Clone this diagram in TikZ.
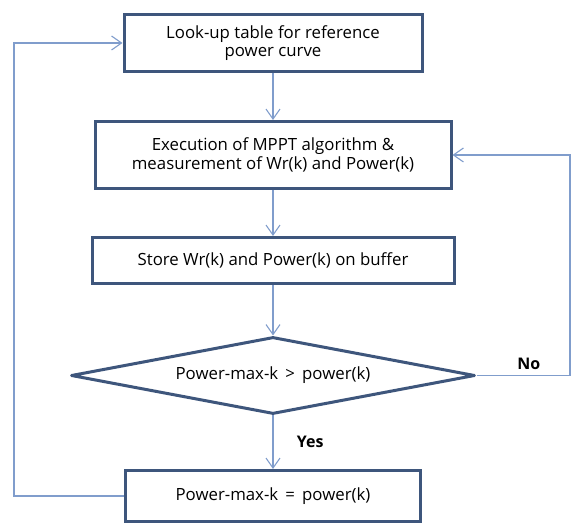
\documentclass[tikz,border=0pt]{standalone}
\usepackage{fontspec}
\setmainfont{Open Sans}
\usetikzlibrary{arrows.meta,positioning}
\usetikzlibrary{shapes.geometric}

\definecolor{boxblue}{RGB}{62,86,124}
\definecolor{lineblue}{RGB}{128,157,204}

\begin{document}
\begin{tikzpicture}
		[x=1pt,y=-1pt,
		proc/.style={draw=boxblue,line width=3pt,fill=white,align=center,inner sep=0pt,font=\fontsize{16.8}{18.5}\selectfont},
		decide/.style={draw=boxblue,line width=3pt,line join=round,fill=white,shape=diamond,aspect=5.25,inner sep=0pt,font=\fontsize{16.8}{18.5}\selectfont},
		flow/.style={draw=lineblue,line width=1.1pt,-{Straight Barb[length=10pt,width=14pt]}},
		lbl/.style={font=\bfseries\fontsize{16}{18}\selectfont,text=black}]
		\useasboundingbox (0,0) rectangle (574,526);
		
		\node[proc,minimum width=298pt,minimum height=57pt] (lut) at (273,43) {Look-up table for reference\\power curve};
		\node[proc,minimum width=356pt,minimum height=67pt] (mppt) at (273,155) {Execution of MPPT algorithm \&\\measurement of Wr(k) and Power(k)};
		\node[proc,minimum width=362pt,minimum height=46pt] (store) at (273,260.5) {Store Wr(k) and Power(k) on buffer};
		\node[decide,minimum width=404pt,minimum height=77pt] (cmp) at (273,375.5) {Power-max-k \,>\, power(k)};
		\node[proc,minimum width=295pt,minimum height=51pt] (upd) at (273,496) {Power-max-k \,=\, power(k)};
		
		\coordinate (rturn) at (570,155);
		\coordinate (lturn) at (14,43);
		
		\draw[flow] (lut) -- (mppt);
		\draw[flow] (mppt) -- (store);
		\draw[flow] (store) -- (cmp);
		\draw[flow] (cmp) to node [lbl,right=20pt] {Yes} (upd);
		
		\draw[flow] (cmp.east) -| node [lbl,above,pos=0.28,yshift=2pt] {No} (rturn) -- (mppt.east);
		\draw[flow] (upd.west) -| (lturn) -- (lut.west);
		\end{tikzpicture}
\end{document}
